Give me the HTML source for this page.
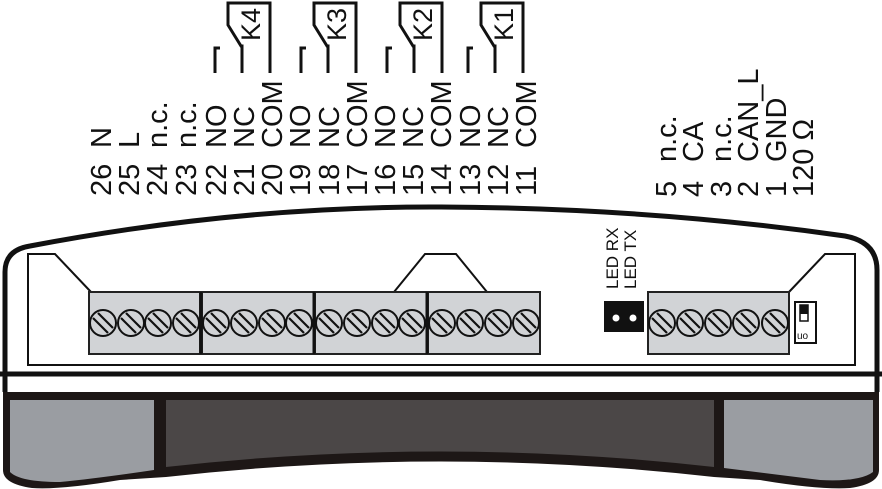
<!DOCTYPE html>
<html><head><meta charset="utf-8"><style>html,body{margin:0;padding:0;background:#fff}svg{display:block}</style></head>
<body>
<svg width="882" height="489" viewBox="0 0 882 489" xmlns="http://www.w3.org/2000/svg" font-family="Liberation Sans, Arial, sans-serif">
<defs>
<g id="relay" fill="none" stroke="#111" stroke-width="3">
<polyline points="0,73 0,3 -42,3 -42,25 -29,46 -28,46 -28,73"/>
<polyline points="-55,73 -55,48 -50,48"/>
</g>
<g id="screw">
<circle r="13" fill="#d1d3d6" stroke="#111" stroke-width="2"/>
<line x1="-10" y1="-5" x2="5" y2="10" stroke="#111" stroke-width="2.2"/>
<line x1="-5" y1="-10" x2="10" y2="5" stroke="#111" stroke-width="2.2"/>
</g>
</defs>

<!-- relays -->
<use href="#relay" x="270" y="0"/>
<use href="#relay" x="356" y="0"/>
<use href="#relay" x="442" y="0"/>
<use href="#relay" x="523" y="0"/>
<g font-size="27" fill="#111">
<text transform="translate(260,41) rotate(-90)">K4</text>
<text transform="translate(346,41) rotate(-90)">K3</text>
<text transform="translate(432,41) rotate(-90)">K2</text>
<text transform="translate(513,41) rotate(-90)">K1</text>
</g>

<!-- terminal labels -->
<g font-size="29" fill="#111">
<text transform="translate(111,196) rotate(-90)">26</text><text transform="translate(111,148) rotate(-90)">N</text>
<text transform="translate(139,196) rotate(-90)">25</text><text transform="translate(139,148) rotate(-90)">L</text>
<text transform="translate(167,196) rotate(-90)">24</text><text transform="translate(167,148) rotate(-90)">n.c.</text>
<text transform="translate(196,196) rotate(-90)">23</text><text transform="translate(196,148) rotate(-90)">n.c.</text>
<text transform="translate(226,196) rotate(-90)">22</text><text transform="translate(226,148) rotate(-90)">NO</text>
<text transform="translate(254,196) rotate(-90)">21</text><text transform="translate(254,148) rotate(-90)">NC</text>
<text transform="translate(282,196) rotate(-90)">20</text><text transform="translate(282,148) rotate(-90)">COM</text>
<text transform="translate(310,196) rotate(-90)">19</text><text transform="translate(310,148) rotate(-90)">NO</text>
<text transform="translate(339,196) rotate(-90)">18</text><text transform="translate(339,148) rotate(-90)">NC</text>
<text transform="translate(367,196) rotate(-90)">17</text><text transform="translate(367,148) rotate(-90)">COM</text>
<text transform="translate(395,196) rotate(-90)">16</text><text transform="translate(395,148) rotate(-90)">NO</text>
<text transform="translate(423,196) rotate(-90)">15</text><text transform="translate(423,148) rotate(-90)">NC</text>
<text transform="translate(451,196) rotate(-90)">14</text><text transform="translate(451,148) rotate(-90)">COM</text>
<text transform="translate(480,196) rotate(-90)">13</text><text transform="translate(480,148) rotate(-90)">NO</text>
<text transform="translate(508,196) rotate(-90)">12</text><text transform="translate(508,148) rotate(-90)">NC</text>
<text transform="translate(536,196) rotate(-90)">11</text><text transform="translate(536,148) rotate(-90)">COM</text>
<text transform="translate(676,197) rotate(-90)">5</text><text transform="translate(676,162) rotate(-90)">n.c.</text>
<text transform="translate(703,197) rotate(-90)">4</text><text transform="translate(703,162) rotate(-90)">CA</text>
<text transform="translate(731,197) rotate(-90)">3</text><text transform="translate(731,162) rotate(-90)">n.c.</text>
<text transform="translate(758,197) rotate(-90)">2</text><text transform="translate(758,162) rotate(-90)">CAN_L</text>
<text transform="translate(786,197) rotate(-90)">1</text><text transform="translate(786,162) rotate(-90)">GND</text>
<text transform="translate(813,197) rotate(-90)">120 Ω</text>
</g>

<!-- bottom section -->
<path d="M3,390 H879 V470 Q879,484 850,488 Q820,490 760,480 L714,477 Q441,446 166,477 L120,480 Q60,490 32,488 Q3,484 3,470 Z" fill="#1d1716"/>
<path d="M10,400 H154 V470 Q100,478 60,482 Q20,482 10,472 Z" fill="#9a9da2"/>
<path d="M166,400 H714 V467 Q441,436 166,467 Z" fill="#4b4747"/>
<path d="M724,400 H873 V472 Q860,482 820,480 L724,468 Z" fill="#9a9da2"/>
<rect x="6" y="376" width="870" height="16" fill="#fff"/>

<!-- upper body -->
<path d="M5,373 V272 Q5,250 30,246 Q240,206 441,207 Q650,208 845,236 Q877,242 877,270 V392" fill="#fff" stroke="#111" stroke-width="5"/>
<line x1="5" y1="374" x2="5" y2="392" stroke="#111" stroke-width="5"/>
<line x1="0" y1="374" x2="882" y2="374" stroke="#111" stroke-width="5"/>

<!-- inner panel -->
<polyline points="91,292 55,254 28,254 28,365 855,365 855,254 825,254 789,292" fill="none" stroke="#111" stroke-width="2"/>
<polyline points="394,292 425,254 456,254 487,292" fill="none" stroke="#111" stroke-width="2"/>

<!-- terminal blocks -->
<g fill="#d1d3d6" stroke="#222" stroke-width="2">
<rect x="89" y="292" width="111" height="62"/>
<rect x="202" y="292" width="112" height="62"/>
<rect x="315" y="292" width="112" height="62"/>
<rect x="428" y="292" width="112" height="62"/>
<rect x="648" y="292" width="141" height="62"/>
</g>
<line x1="201" y1="292" x2="201" y2="354" stroke="#111" stroke-width="3"/>
<line x1="314" y1="292" x2="314" y2="354" stroke="#111" stroke-width="3"/>
<line x1="427" y1="292" x2="427" y2="354" stroke="#111" stroke-width="3"/>

<use href="#screw" x="103" y="323"/><use href="#screw" x="131" y="323"/><use href="#screw" x="158" y="323"/><use href="#screw" x="186" y="323"/>
<use href="#screw" x="216" y="323"/><use href="#screw" x="244" y="323"/><use href="#screw" x="272" y="323"/><use href="#screw" x="299" y="323"/>
<use href="#screw" x="329" y="323"/><use href="#screw" x="357" y="323"/><use href="#screw" x="385" y="323"/><use href="#screw" x="412" y="323"/>
<use href="#screw" x="442" y="323"/><use href="#screw" x="470" y="323"/><use href="#screw" x="498" y="323"/><use href="#screw" x="526" y="323"/>
<use href="#screw" x="662" y="323"/><use href="#screw" x="690" y="323"/><use href="#screw" x="718" y="323"/><use href="#screw" x="746" y="323"/><use href="#screw" x="775" y="323"/>

<!-- LEDs -->
<rect x="604" y="301" width="40" height="31" fill="#111"/>
<circle cx="616" cy="318" r="3.5" fill="#fff"/>
<circle cx="633" cy="318" r="3.5" fill="#fff"/>
<g font-size="17" fill="#111">
<text transform="translate(618,289) rotate(-90)">LED RX</text>
<text transform="translate(636,289) rotate(-90)">LED TX</text>
</g>

<!-- switch -->
<rect x="795" y="302" width="21" height="41" fill="#fff" stroke="#111" stroke-width="2"/>
<rect x="800" y="305" width="8" height="16" fill="#fff" stroke="#111" stroke-width="1.5"/>
<rect x="800" y="305" width="8" height="9" fill="#111"/>
<text x="797" y="339" font-size="10" fill="#111">uo</text>
</svg>
</body></html>
